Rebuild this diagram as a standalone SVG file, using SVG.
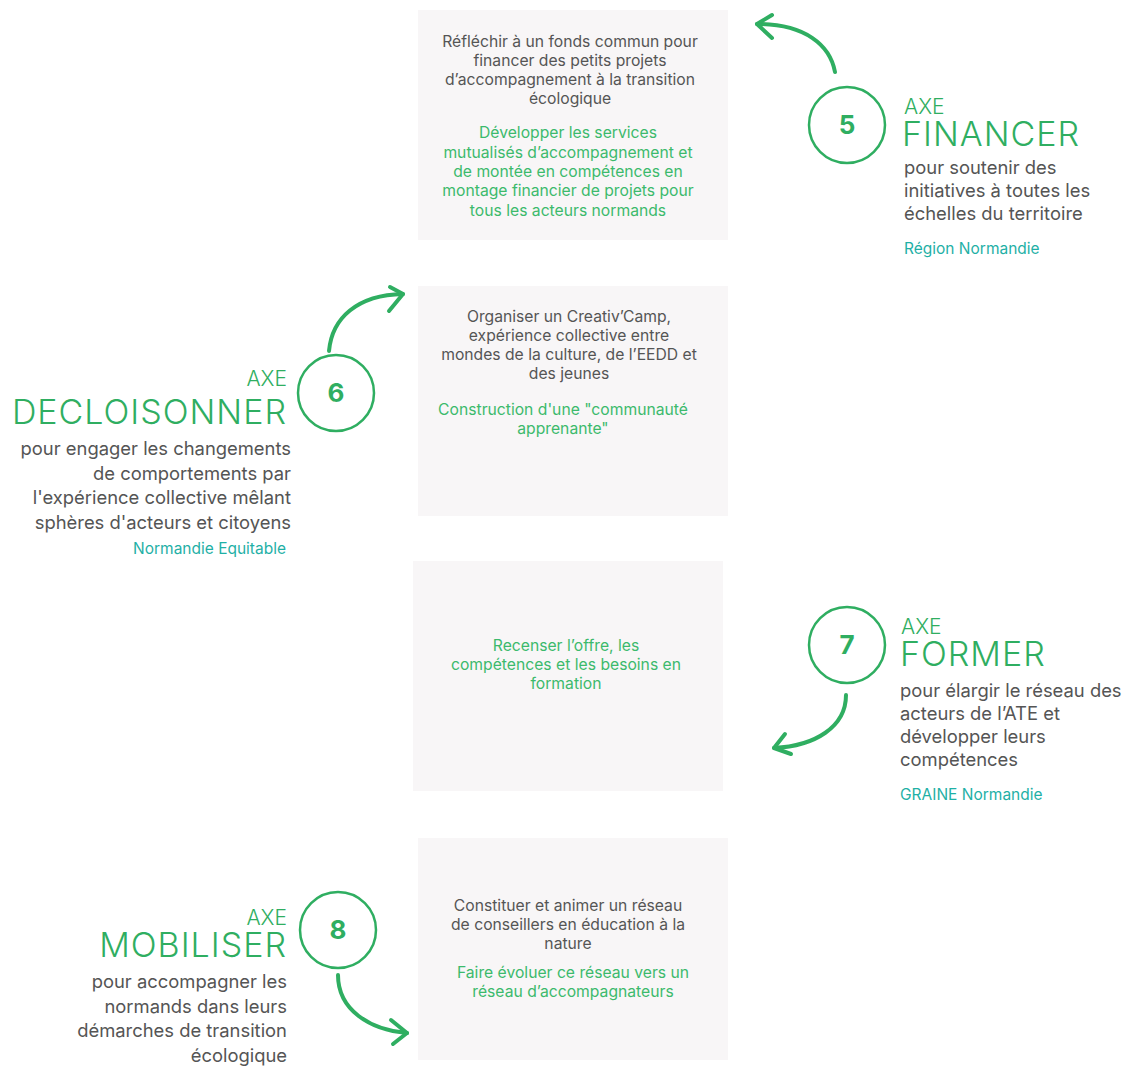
<svg xmlns="http://www.w3.org/2000/svg" width="1130" height="1066" viewBox="0 0 1130 1066">
<style>
text{font-family:Inter,"Liberation Sans",sans-serif}
.box{fill:#f8f6f7}
.circ{fill:none;stroke:#2fae61;stroke-width:2.5}
.num{font-size:26px;font-weight:700;fill:#2fae61;text-anchor:middle}
.axe{font-size:21px;font-weight:300;fill:#2fae61}
.title{font-size:34px;font-weight:300;fill:#2fae61;letter-spacing:1px}
.desc{font-size:18.4px;fill:#555555}
.org{font-size:15.5px;fill:#1fb0a6}
.g{font-size:15.7px;fill:#555555;text-anchor:middle}
.v{font-size:15.7px;fill:#3cba6c;text-anchor:middle}
.arr{fill:none;stroke:#2fae61;stroke-width:4;stroke-linecap:round;stroke-linejoin:round}
.end{text-anchor:end}
</style>
<rect width="1130" height="1066" fill="#ffffff"/>

<g id="box1">
<rect class="box" x="418" y="10" width="310" height="230"/>
<text class="g" x="570" y="47">Réfléchir à un fonds commun pour</text>
<text class="g" x="570" y="66">financer des petits projets</text>
<text class="g" x="570" y="85">d’accompagnement à la transition</text>
<text class="g" x="570" y="104">écologique</text>
<text class="v" x="568" y="138">Développer les services</text>
<text class="v" x="568" y="158">mutualisés d’accompagnement et</text>
<text class="v" x="568" y="177">de montée en compétences en</text>
<text class="v" x="568" y="196">montage financier de projets pour</text>
<text class="v" x="568" y="216">tous les acteurs normands</text>
</g>

<g id="box2">
<rect class="box" x="418" y="286" width="310" height="230"/>
<text class="g" x="569" y="322">Organiser un Creativ’Camp,</text>
<text class="g" x="569" y="341">expérience collective entre</text>
<text class="g" x="569" y="360">mondes de la culture, de l’EEDD et</text>
<text class="g" x="569" y="379">des jeunes</text>
<text class="v" x="563" y="415">Construction d'une "communauté</text>
<text class="v" x="563" y="434">apprenante"</text>
</g>

<g id="box3">
<rect class="box" x="413" y="561" width="310" height="230"/>
<text class="v" x="566" y="651">Recenser l’offre, les</text>
<text class="v" x="566" y="670">compétences et les besoins en</text>
<text class="v" x="566" y="689">formation</text>
</g>

<g id="box4">
<rect class="box" x="418" y="838" width="310" height="222"/>
<text class="g" x="568" y="911">Constituer et animer un réseau</text>
<text class="g" x="568" y="930">de conseillers en éducation à la</text>
<text class="g" x="568" y="949">nature</text>
<text class="v" x="573" y="978">Faire évoluer ce réseau vers un</text>
<text class="v" x="573" y="997">réseau d’accompagnateurs</text>
</g>

<g id="axe5">
<circle class="circ" cx="847" cy="125" r="38"/>
<text class="num" x="847" y="134">5</text>
<text class="axe" x="904" y="114">AXE</text>
<text class="title" x="902" y="146">FINANCER</text>
<text class="desc" x="904" y="174">pour soutenir des</text>
<text class="desc" x="904" y="197">initiatives à toutes les</text>
<text class="desc" x="904" y="220">échelles du territoire</text>
<text class="org" x="904" y="254">Région Normandie</text>
</g>

<g id="axe6">
<circle class="circ" cx="336" cy="393" r="38"/>
<text class="num" x="336" y="402">6</text>
<text class="axe end" x="287" y="386">AXE</text>
<text class="title end" x="287" y="424">DECLOISONNER</text>
<text class="desc end" x="291" y="455">pour engager les changements</text>
<text class="desc end" x="291" y="480">de comportements par</text>
<text class="desc end" x="291" y="504">l'expérience collective mêlant</text>
<text class="desc end" x="291" y="529">sphères d'acteurs et citoyens</text>
<text class="org end" x="286" y="554">Normandie Equitable</text>
</g>

<g id="axe7">
<circle class="circ" cx="847" cy="645" r="38"/>
<text class="num" x="847" y="654">7</text>
<text class="axe" x="901" y="634">AXE</text>
<text class="title" x="900" y="666">FORMER</text>
<text class="desc" x="900" y="697">pour élargir le réseau des</text>
<text class="desc" x="900" y="720">acteurs de l’ATE et</text>
<text class="desc" x="900" y="743">développer leurs</text>
<text class="desc" x="900" y="766">compétences</text>
<text class="org" x="900" y="800">GRAINE Normandie</text>
</g>

<g id="axe8">
<circle class="circ" cx="338" cy="930" r="38"/>
<text class="num" x="338" y="939">8</text>
<text class="axe end" x="287" y="925">AXE</text>
<text class="title end" x="287" y="957">MOBILISER</text>
<text class="desc end" x="287" y="988">pour accompagner les</text>
<text class="desc end" x="287" y="1013">normands dans leurs</text>
<text class="desc end" x="287" y="1037">démarches de transition</text>
<text class="desc end" x="287" y="1062">écologique</text>
</g>

<g id="connectors">
<path class="arr" d="M835,72 C830,45 805,24 757,24"/>
<path class="arr" d="M772,15 L757,24 L772,38"/>
<path class="arr" d="M329,351 C332,318 357,295 403,294"/>
<path class="arr" d="M390,287 L403,294 L389,311"/>
<path class="arr" d="M846,695 C846,727 815,746 774,748"/>
<path class="arr" d="M785,734 L774,748 L791,754"/>
<path class="arr" d="M338,975 C338,1010 370,1030 407,1033"/>
<path class="arr" d="M391,1020 L407,1033 L393,1044"/>
</g>
</svg>
